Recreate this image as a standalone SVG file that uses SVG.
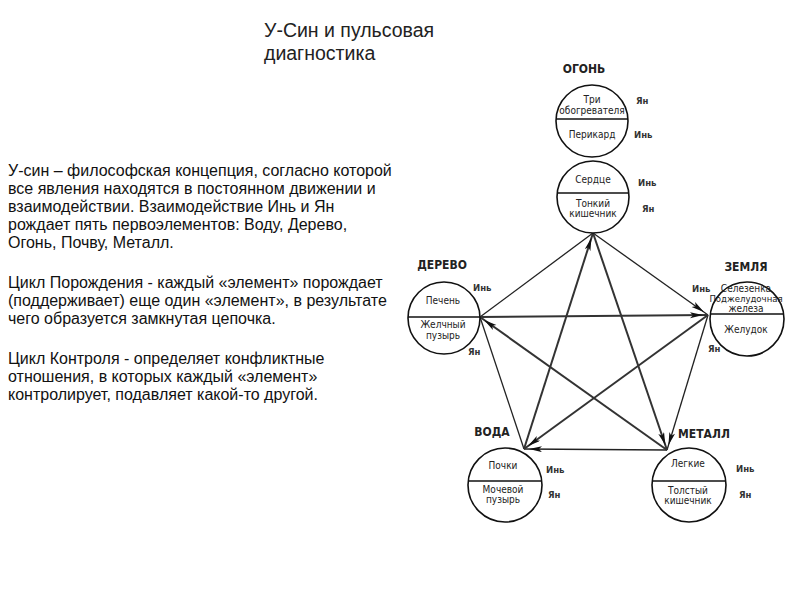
<svg xmlns="http://www.w3.org/2000/svg" width="800" height="600" viewBox="0 0 800 600">
<style>
.title{font-family:"Liberation Sans",Arial,sans-serif;font-size:19.5px;fill:#222}
.body{font-family:"Liberation Sans",Arial,sans-serif;font-size:16px;fill:#111}
.el{font-family:"DejaVu Sans Condensed","DejaVu Sans",sans-serif;font-weight:bold;font-size:12px;fill:#222;text-anchor:middle}
.in{font-family:"DejaVu Sans Condensed","DejaVu Sans",sans-serif;font-size:10px;fill:#222;text-anchor:middle}
.yy{font-family:"DejaVu Sans Condensed","DejaVu Sans",sans-serif;font-weight:bold;font-size:9.5px;fill:#333}
.c{fill:#fff;stroke:#111;stroke-width:1.6}
.d{stroke:#111;stroke-width:1.6}
.gen{stroke:#222;stroke-width:1.3;fill:none}
.ctl{stroke:#333;stroke-width:2;fill:none}
</style>
<defs>
<marker id="ah" markerUnits="userSpaceOnUse" markerWidth="24" markerHeight="8" refX="18" refY="3" orient="auto">
<path d="M0,0 L13,3 L0,6 L3,3 z" fill="#111"/>
</marker>
</defs>

<text class="title" x="264" y="37">У-Син и пульсовая</text>
<text class="title" x="264" y="60">диагностика</text>

<g id="text">
<text class="body" x="8" y="176">У-син – философская концепция, согласно которой</text>
<text class="body" x="8" y="194">все явления находятся в постоянном движении и</text>
<text class="body" x="8" y="212">взаимодействии. Взаимодействие Инь и Ян</text>
<text class="body" x="8" y="230">рождает пять первоэлементов: Воду, Дерево,</text>
<text class="body" x="8" y="248">Огонь, Почву, Металл.</text>
<text class="body" x="8" y="288">Цикл Порождения - каждый «элемент» порождает</text>
<text class="body" x="8" y="306">(поддерживает) еще один «элемент», в результате</text>
<text class="body" x="8" y="324">чего образуется замкнутая цепочка.</text>
<text class="body" x="8" y="364">Цикл Контроля - определяет конфликтные</text>
<text class="body" x="8" y="382">отношения, в которых каждый «элемент»</text>
<text class="body" x="8" y="400">контролирует, подавляет какой-то другой.</text>
</g>

<g id="connectors">
<line class="gen" x1="480" y1="317" x2="593" y2="233"/>
<line class="gen" x1="593" y1="233" x2="708" y2="315" marker-end="url(#ah)"/>
<line class="gen" x1="708" y1="315" x2="667" y2="450" marker-end="url(#ah)"/>
<line class="gen" x1="667" y1="450" x2="524" y2="449" marker-end="url(#ah)"/>
<line class="gen" x1="524" y1="449" x2="480" y2="317"/>
<line class="ctl" x1="524" y1="449" x2="593" y2="233" marker-end="url(#ah)"/>
<line class="ctl" x1="593" y1="233" x2="667" y2="450" marker-end="url(#ah)"/>
<line class="ctl" x1="667" y1="450" x2="480" y2="317" marker-end="url(#ah)"/>
<line class="ctl" x1="480" y1="317" x2="708" y2="315" marker-end="url(#ah)"/>
<line class="ctl" x1="708" y1="315" x2="524" y2="449" marker-end="url(#ah)"/>
</g>

<g id="fire">
<text class="el" x="584" y="73">ОГОНЬ</text>
<circle class="c" cx="592" cy="121" r="36"/>
<line class="d" x1="556" y1="119" x2="628" y2="119"/>
<text class="in" x="592" y="103">Три</text>
<text class="in" x="592" y="114">обогревателя</text>
<text class="in" x="592" y="138">Перикард</text>
<text class="yy" x="636" y="104">Ян</text>
<text class="yy" x="634" y="138">Инь</text>
<circle class="c" cx="593" cy="197" r="36"/>
<line class="d" x1="557" y1="193" x2="629" y2="193"/>
<text class="in" x="593" y="183">Сердце</text>
<text class="in" x="593" y="207">Тонкий</text>
<text class="in" x="593" y="217">кишечник</text>
<text class="yy" x="638" y="186">Инь</text>
<text class="yy" x="642" y="212">Ян</text>
</g>

<g id="wood">
<text class="el" x="442" y="269">ДЕРЕВО</text>
<circle class="c" cx="444" cy="318" r="36"/>
<line class="d" x1="408" y1="317" x2="480" y2="317"/>
<text class="in" x="443" y="304">Печень</text>
<text class="in" x="443" y="328">Желчный</text>
<text class="in" x="443" y="339">пузырь</text>
<text class="yy" x="473" y="291">Инь</text>
<text class="yy" x="468" y="355">Ян</text>
</g>

<g id="earth">
<text class="el" x="746" y="271">ЗЕМЛЯ</text>
<circle class="c" cx="747" cy="319" r="37"/>
<line class="d" x1="710" y1="314" x2="784" y2="314"/>
<text class="in" x="746" y="292">Селезенка</text>
<text class="in" x="746" y="302" style="font-size:9.5px">Поджелудочная</text>
<text class="in" x="746" y="312">железа</text>
<text class="in" x="746" y="333">Желудок</text>
<text class="yy" x="692" y="292">Инь</text>
<text class="yy" x="708" y="352">Ян</text>
</g>

<g id="water">
<text class="el" x="492" y="436">ВОДА</text>
<circle class="c" cx="505" cy="485" r="37"/>
<line class="d" x1="468" y1="481" x2="542" y2="481"/>
<text class="in" x="503" y="469">Почки</text>
<text class="in" x="503" y="493">Мочевой</text>
<text class="in" x="503" y="503">пузырь</text>
<text class="yy" x="546" y="473">Инь</text>
<text class="yy" x="548" y="498">Ян</text>
</g>

<g id="metal">
<text class="el" x="704" y="438">МЕТАЛЛ</text>
<circle class="c" cx="689" cy="485" r="37"/>
<line class="d" x1="652" y1="481" x2="726" y2="481"/>
<text class="in" x="688" y="467">Легкие</text>
<text class="in" x="688" y="494">Толстый</text>
<text class="in" x="688" y="504">кишечник</text>
<text class="yy" x="736" y="472">Инь</text>
<text class="yy" x="739" y="498">Ян</text>
</g>
</svg>
